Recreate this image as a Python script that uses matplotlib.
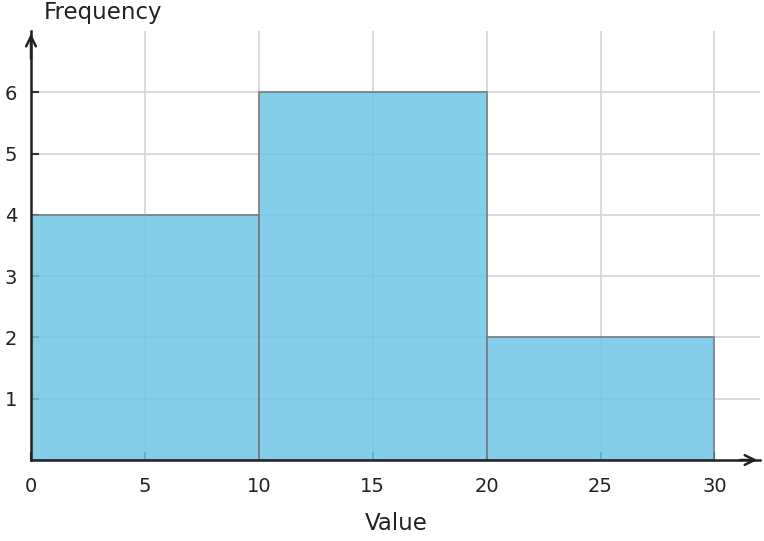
import matplotlib.pyplot as plt

plt.rcParams['font.family'] = ['DejaVu Sans']

# histogram bins and counts
bin_edges = [0, 10, 20, 30]
counts = [4, 6, 2]
xticks = [0, 5, 10, 15, 20, 25, 30]
yticks = [1, 2, 3, 4, 5, 6]

fig = plt.figure(figsize=(7.64, 5.41), dpi=100)
ax = fig.add_axes([31 / 764, 81 / 541, 729 / 764, 429 / 541])

ax.hist(bin_edges[:-1], bins=bin_edges, weights=counts,
        color='#6EC6E6', alpha=0.85, edgecolor='#777777', linewidth=1.3, zorder=3)

ax.set_xlim(0, 32)
ax.set_ylim(0, 7)
ax.set_xticks(xticks)
ax.set_yticks(yticks)
ax.grid(True, color='#d3d3d3', linewidth=1.2, zorder=0)
ax.set_axisbelow(True)

for s in ['top', 'right']:
    ax.spines[s].set_visible(False)
for s in ['left', 'bottom']:
    ax.spines[s].set_color('#222222')
    ax.spines[s].set_linewidth(1.8)
    ax.spines[s].set_zorder(4)

ax.tick_params(direction='in', length=6, width=1.5, color='#333333',
               labelsize=14, labelcolor='#222222', pad=12)
ax.tick_params(axis='y', pad=10)

# arrows at axis ends
arrow = dict(arrowstyle='->,head_length=0.7,head_width=0.35', color='#222222', lw=1.8)
ax.annotate('', xy=(32, 0), xytext=(31, 0), xycoords='data',
            arrowprops=arrow, annotation_clip=False)
ax.annotate('', xy=(0, 7), xytext=(0, 6.5), xycoords='data',
            arrowprops=arrow, annotation_clip=False)

fig.text(44 / 764, 1 - 12 / 541, 'Frequency', fontsize=16.5, color='#222222', va='center', ha='left')
fig.text(396 / 764, 1 - 524 / 541, 'Value', fontsize=16.5, color='#222222', va='center', ha='center')

fig.savefig('out.png', dpi=100)
